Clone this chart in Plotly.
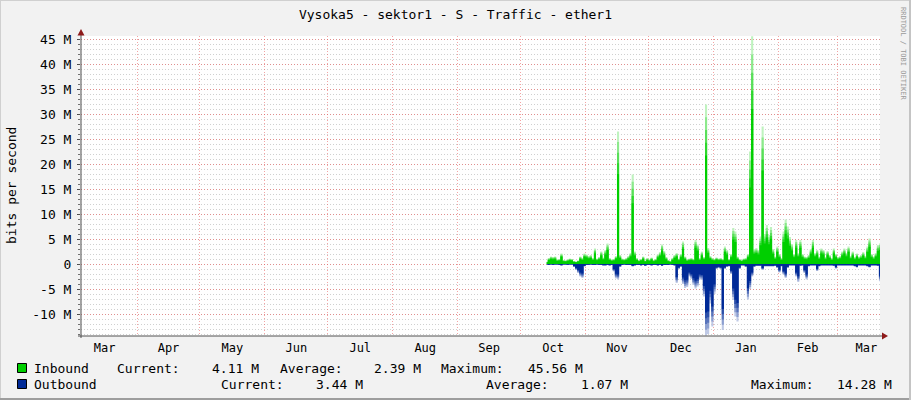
import numpy as np
import pandas as pd
import plotly.graph_objects as go

title = "Vysoka5 - sektor1 - S - Traffic - ether1"
y_title = "bits per second"
watermark = "RRDTOOL / TOBI OETIKER"

# daily samples (Mbit/s), first sample on Oct 13
start_day = "2018-10-13 12:00"
inbound = [
    0.5, 1.2, 1.5, 1.4, 1.5, 0.9, 1.0, 2.1, 0.8, 0.7,
    0.9, 1.1, 1.0, 0.6, 0.5, 0.7, 1.5, 1.2, 2.1, 1.9,
    1.6, 1.8, 1.2, 3.1, 1.1, 1.4, 2.5, 1.3, 2.8, 4.1,
    1.2, 0.9, 1.0, 1.6, 26.5, 1.8, 1.1, 1.0, 1.2, 1.6,
    2.2, 17.9, 2.5, 1.2, 0.8, 1.0, 1.5, 0.7, 1.2, 0.9,
    1.3, 0.8, 1.0, 1.9, 2.4, 3.9, 2.6, 1.4, 0.8, 0.6,
    1.2, 1.8, 2.2, 1.1, 2.0, 4.5, 1.5, 0.9, 1.1, 1.2,
    1.0, 4.8, 3.9, 1.2, 2.5, 1.4, 31.9, 3.2, 1.6, 1.2,
    1.0, 1.3, 1.1, 1.2, 1.0, 3.5, 2.8, 1.0, 2.0, 7.2,
    6.5, 1.5, 1.0, 0.8, 1.1, 1.2, 2.0, 22.5, 45.56, 3.0,
    3.2, 2.8, 5.5, 27.5, 6.0, 7.8, 5.8, 7.4, 3.0, 1.5,
    3.5, 2.0, 1.2, 6.5, 8.9, 7.5, 5.4, 4.0, 2.0, 4.8,
    2.2, 4.8, 2.0, 1.5, 1.4, 1.8, 3.0, 4.8, 2.2, 2.8,
    1.5, 3.1, 2.8, 1.4, 2.6, 1.8, 1.2, 3.1, 2.0, 1.4,
    1.6, 2.5, 3.1, 2.2, 3.5, 1.6, 2.5, 1.4, 2.1, 1.5,
    1.8, 2.4, 1.6, 3.5, 5.1, 2.0, 1.5, 2.2, 3.8, 4.11,
]
outbound = [
    0.1, 0.2, 0.1, 0.2, 0.1, 0.1, 0.2, 0.3, 0.1, 0.1,
    0.2, 0.1, 0.1, 0.6, 1.2, 1.8, 2.5, 2.8, 0.5, 0.2,
    0.2, 0.1, 0.2, 0.2, 0.1, 0.2, 0.2, 0.3, 0.3, 0.2,
    0.3, 0.2, 1.5, 2.9, 3.1, 0.6, 0.2, 0.1, 0.2, 0.2,
    0.2, 0.5, 0.3, 0.2, 0.2, 0.3, 0.2, 0.4, 0.2, 0.2,
    0.3, 0.2, 0.2, 0.3, 0.2, 0.4, 0.2, 0.2, 0.2, 0.1,
    0.2, 0.3, 3.8, 1.0, 0.6, 4.0, 4.8, 4.6, 2.5, 3.0,
    4.2, 4.9, 4.5, 3.1, 3.2, 6.5, 14.28, 14.0, 7.9, 12.5,
    6.0, 1.0, 0.8, 1.0, 13.2, 1.0, 0.6, 0.5, 2.0, 7.2,
    10.5, 11.5, 1.0, 0.3, 0.3, 0.6, 7.1, 5.0, 2.5, 0.6,
    0.4, 0.4, 0.4, 1.2, 0.5, 0.5, 0.5, 0.5, 0.5, 0.4,
    0.8, 1.7, 0.5, 2.1, 2.8, 0.8, 0.3, 0.3, 0.3, 2.5,
    3.6, 0.4, 0.3, 1.8, 3.1, 0.5, 0.3, 0.3, 0.3, 1.4,
    0.5, 0.3, 0.3, 0.3, 0.3, 0.3, 0.3, 0.4, 0.9, 0.3,
    0.3, 0.3, 0.3, 0.3, 0.3, 0.3, 0.3, 0.5, 0.7, 0.3,
    0.3, 0.3, 0.3, 0.5, 0.7, 0.3, 0.3, 0.3, 0.4, 3.44,
]

y_ticks = [-10, -5, 0, 5, 10, 15, 20, 25, 30, 35, 40, 45]
y_ticktext = ["-10 M", "-5 M", "0", "5 M", "10 M", "15 M", "20 M",
              "25 M", "30 M", "35 M", "40 M", "45 M"]

legend_names = ["Inbound", "Outbound"]
legend_current = ["4.11 M", "3.44 M"]
legend_average = ["2.39 M", "1.07 M"]
legend_maximum = ["45.56 M", "14.28 M"]

GREEN = "#00CF00"
BLUE = "#002A97"
FONT = "DejaVu Sans Mono"

# plot box in page pixels
L, R, T, B = 81, 880, 36, 336


def px(x):
    return (x - L) / (R - L)


def py(y):
    return (B - y) / (B - T)


def mix(c, w):
    r, g, b = int(c[1:3], 16), int(c[3:5], 16), int(c[5:7], 16)
    return "rgb(%d,%d,%d)" % (r + (255 - r) * w, g + (255 - g) * w, b + (255 - b) * w)


days = pd.date_range(start_day, periods=len(inbound), freq="D")
inb = np.array(inbound)
outb = -np.array(outbound)

fig = go.Figure()

# fake the rrdtool gradient: stacked layers, light at the tip, solid at base
layers = [(1.0, 0.75), (0.92, 0.55), (0.84, 0.35), (0.76, 0.18), (0.68, 0.0)]
for series, color in ((inb, GREEN), (outb, BLUE)):
    for frac, white in layers:
        fig.add_trace(go.Scatter(
            x=days, y=series * frac, mode="lines", line=dict(width=0, shape="hvh"),
            fill="tozeroy", fillcolor=mix(color, white),
            hoverinfo="skip", showlegend=False,
        ))

shapes = [
    # axes
    dict(type="line", xref="paper", yref="paper", x0=px(81), x1=px(81), y0=py(338), y1=py(33),
         line=dict(color="#505050", width=1)),
    dict(type="line", xref="paper", yref="paper", x0=px(78), x1=px(884), y0=py(336), y1=py(336),
         line=dict(color="#505050", width=1)),
    dict(type="path", xref="paper", yref="paper",
         path="M %f,%f L %f,%f L %f,%f Z" % (px(81), py(29), px(77.5), py(35.5), px(84.5), py(35.5)),
         fillcolor="#8E1A1A", line=dict(width=0)),
    dict(type="path", xref="paper", yref="paper",
         path="M %f,%f L %f,%f L %f,%f Z" % (px(888), py(336), px(882), py(332.5), px(882), py(339.5)),
         fillcolor="#8E1A1A", line=dict(width=0)),
    # frame
    dict(type="line", xref="paper", yref="paper", x0=px(0), x1=px(911), y0=py(0.5), y1=py(0.5),
         line=dict(color="#D0D0D0", width=1)),
    dict(type="line", xref="paper", yref="paper", x0=px(0.5), x1=px(0.5), y0=py(0), y1=py(400),
         line=dict(color="#D0D0D0", width=1)),
    dict(type="line", xref="paper", yref="paper", x0=px(0), x1=px(911), y0=py(399), y1=py(399),
         line=dict(color="#9E9E9E", width=2)),
    dict(type="line", xref="paper", yref="paper", x0=px(910), x1=px(910), y0=py(0), y1=py(400),
         line=dict(color="#C4C4C4", width=2)),
]

annotations = [
    dict(text=y_title, textangle=-90, x=px(11), y=py(186), xref="paper", yref="paper",
         xanchor="center", yanchor="middle",
         showarrow=False, font=dict(family=FONT, size=13, color="#000")),
    dict(text=watermark, textangle=90, x=px(903), y=py(54), xref="paper", yref="paper",
         xanchor="center", yanchor="middle",
         showarrow=False, font=dict(family=FONT, size=7, color="#9A9A9A")),
]

rows = [
    (368, [("Current:", 116, "left"), (legend_current[0], 260, "right"),
           ("Average:", 279, "left"), (legend_average[0], 422, "right"),
           ("Maximum:", 440, "left"), (legend_maximum[0], 584, "right")]),
    (384, [("Current:", 219.6, "left"), (legend_current[1], 364, "right"),
           ("Average:", 485, "left"), (legend_average[1], 629, "right"),
           ("Maximum:", 749.5, "left"), (legend_maximum[1], 893, "right")]),
]
for k, (yy, parts) in enumerate(rows):
    color = GREEN if k == 0 else BLUE
    shapes.append(dict(type="rect", xref="paper", yref="paper",
                       x0=px(17.5), x1=px(26.5), y0=py(yy - 4.5), y1=py(yy + 4.5),
                       fillcolor=color, line=dict(color="#000", width=1)))
    parts = [(legend_names[k], 33, "left")] + parts
    for text, xx, anchor in parts:
        annotations.append(dict(text=text, x=px(xx), y=py(yy), xref="paper", yref="paper",
                                xanchor=anchor, yanchor="middle", showarrow=False, borderpad=0,
                                font=dict(family=FONT, size=13, color="#000")))

fig.update_layout(
    width=911, height=400,
    margin=dict(l=L, r=911 - R, t=T, b=400 - B),
    paper_bgcolor="#F2F2F2", plot_bgcolor="#FFFFFF",
    title=dict(text=title, x=0.5, xref="container", xanchor="center",
               y=1 - 14 / 400, yref="container", yanchor="middle",
               font=dict(family=FONT, size=13, color="#000")),
    showlegend=False,
    shapes=shapes, annotations=annotations,
    xaxis=dict(
        type="date", range=["2018-03-05 06:00", "2019-03-21 12:00"],
        dtick="M1", tick0="2018-01-01", ticklabelmode="period", tickformat="%b",
        showgrid=True, gridcolor="rgba(235,90,90,0.55)", griddash="1px,2px", gridwidth=1,
        zeroline=False, showline=False, ticks="", ticklabelstandoff=3,
        tickfont=dict(family=FONT, size=12, color="#000"),
    ),
    yaxis=dict(
        range=[-14.4, 45.6], tickmode="array", tickvals=y_ticks, ticktext=y_ticktext,
        showgrid=True, gridcolor="rgba(235,90,90,0.55)", griddash="1px,2px", gridwidth=1,
        zeroline=False, showline=False,
        ticks="outside", ticklen=3, tickcolor="#505050", ticklabelstandoff=3,
        tickfont=dict(family=FONT, size=13, color="#000"),
        minor=dict(dtick=1, tick0=0, showgrid=True, gridcolor="rgba(150,150,150,0.45)",
                   griddash="1px,2px", ticks="outside", ticklen=2, tickcolor="#707070"),
    ),
)

# page body has a default 8px margin; drop it so the figure sits at 0,0
fig.write_html("out.html", config={"displayModeBar": False},
               post_script="document.body.style.margin='0';")
